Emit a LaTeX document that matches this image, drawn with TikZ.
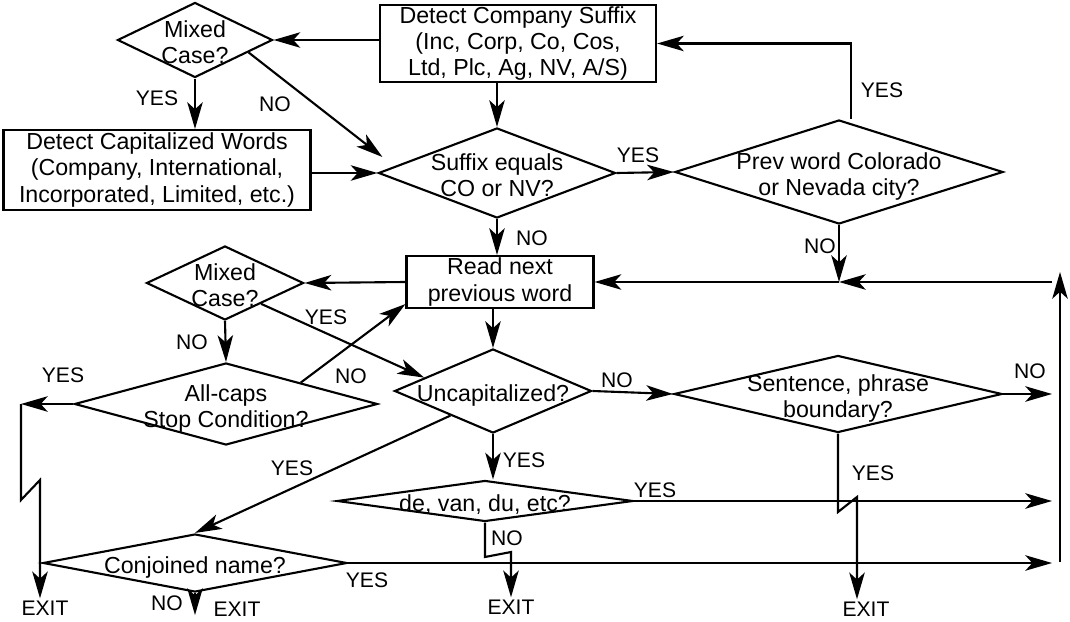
\documentclass[tikz,border=0pt]{standalone}
\usepackage{fontspec}
\setmainfont{Liberation Sans}
\usetikzlibrary{shapes.geometric, arrows.meta}

\newcommand{\dtxt}[1]{\raisebox{-8pt}[0pt][0pt]{\makebox[0pt]{\begin{tabular}{@{}c@{}}#1\end{tabular}}}}

\begin{document}
\begin{tikzpicture}[
    x=0.025cm, y=-0.025cm, line width=1.5pt,
    decision/.style={diamond, draw, inner sep=0pt, font=\fontsize{16.5}{18.5}\selectfont},
    block/.style={rectangle, draw, inner sep=1pt, align=center, font=\fontsize{16.5}{18.5}\selectfont},
    lbl/.style={inner sep=1pt, font=\fontsize{15}{17}\selectfont},
    arrow/.style={-{Stealth[length=19pt, width=11pt, inset=5pt]}}
  ]
    \useasboundingbox (0,0) rectangle (1070,622);

    % Nodes
    \node (mixtop) [decision, minimum width=3.875cm, minimum height=1.875cm] at (195,40) {\dtxt{Mixed\\Case?}};
    \node (suffixbox) [block, minimum width=6.9cm, minimum height=1.925cm] at (518,43.5) {Detect Company Suffix\\(Inc, Corp, Co, Cos,\\Ltd, Plc, Ag, NV, A/S)};
    \node (capbox) [block, minimum width=7.675cm, minimum height=2cm] at (157,170) {Detect Capitalized Words\\(Company, International,\\Incorporated, Limited, etc.)};
    \node (suffixq) [decision, minimum width=5.925cm, minimum height=2.25cm] at (497,173) {\dtxt{Suffix equals\\CO or NV?}};
    \node (prevq) [decision, minimum width=8.2cm, minimum height=2.6cm] at (839,172) {\dtxt{Prev word Colorado\\or Nevada city?}};
    \node (readbox) [block, minimum width=4.675cm, minimum height=1.3cm] at (500,282) {Read next\\previous word};
    \node (mixmid) [decision, minimum width=3.925cm, minimum height=1.85cm] at (225,283) {\dtxt{Mixed\\Case?}};
    \node (allcaps) [decision, minimum width=7.575cm, minimum height=2.05cm] at (226,404) {\dtxt{All-caps\\Stop Condition?}};
    \node (uncap) [decision, minimum width=4.925cm, minimum height=2.1cm] at (493,391) {\dtxt{Uncapitalized?}};
    \node (sentq) [decision, minimum width=8.2cm, minimum height=1.925cm] at (838,394) {\dtxt{Sentence, phrase\\boundary?}};
    \node (devan) [decision, minimum width=7.4cm, minimum height=1.025cm] at (485,501) {\dtxt{de, van, du, etc?}};
    \node (conj) [decision, minimum width=7.6cm, minimum height=1.45cm] at (195,563) {\dtxt{Conjoined name?}};

    \node (exitl) [lbl] at (45,608) {EXIT};
    \node (exitc) [lbl] at (237,609) {EXIT};
    \node (exitd) [lbl] at (511,607) {EXIT};
    \node (exits) [lbl] at (866,609) {EXIT};

    \coordinate (railbot) at (1060,562);
    \coordinate (railtop) at (1060,272);
    \coordinate (railjoin) at (1052,282);
    \coordinate (lcorner) at (21,404);
    \coordinate (lbrk) at (40,480);
    \coordinate (dbrk) at (511,552);
    \coordinate (sbrk) at (857,497);

    % Labels
    \node (yesa) [lbl] at (157,98) {YES};
    \node (noa) [lbl] at (275,104) {NO};
    \node (yesb) [lbl] at (638,155) {YES};
    \node (yesc) [lbl] at (882,90) {YES};
    \node (noc) [lbl] at (820,246) {NO};
    \node (nob) [lbl] at (532,238) {NO};
    \node (yesd) [lbl] at (326,317) {YES};
    \node (nod) [lbl] at (192,342) {NO};
    \node (yese) [lbl] at (63,375) {YES};
    \node (noe) [lbl] at (351,376) {NO};
    \node (nof) [lbl] at (617,380) {NO};
    \node (yesf) [lbl] at (524,460) {YES};
    \node (yesg) [lbl] at (292,468) {YES};
    \node (nog) [lbl] at (1030,371) {NO};
    \node (yesh) [lbl] at (873,473) {YES};
    \node (yesi) [lbl] at (655,490) {YES};
    \node (noi) [lbl] at (507,538) {NO};
    \node (yesj) [lbl] at (367,580) {YES};
    \node (noj) [lbl] at (167,603) {NO};

    % Connections
    \draw [arrow] (suffixbox.west |- mixtop.east) -- (mixtop.east);
    \draw [arrow] (mixtop.south) -- (mixtop.south |- capbox.north);
    \draw [arrow] (mixtop.-13) -- ([shift={(5,-16)}]suffixq.west);
    \draw [arrow] (capbox.east |- suffixq.west) -- (suffixq.west);
    \draw [arrow] (suffixbox.south -| suffixq.north) -- (suffixq.north);
    \draw [arrow] (suffixq.east) -- (prevq.west);
    \draw [arrow] ([shift={(12,0)}]prevq.north) |- (suffixbox.east);
    \draw [arrow] (prevq.south) -- (prevq.south |- readbox.east);
    \draw [arrow] (railbot) -- (railtop);
    \draw [arrow] (railjoin) -- (prevq.south |- readbox.east);
    \draw [arrow] (prevq.south |- readbox.east) -- (readbox.east);
    \draw [arrow] (suffixq.south) -- (suffixq.south |- readbox.north);
    \draw [arrow] (readbox.west) -- (mixmid.east);
    \draw [arrow] (readbox.south -| uncap.north) -- (uncap.north);
    \draw [arrow] (mixmid.south) -- (allcaps.north);
    \draw [arrow] (mixmid.-30) -- (uncap.169);
    \draw [arrow] (allcaps.16) -- ([shift={(0,-5)}]readbox.south west);
    \draw [arrow] (allcaps.west) -- (lcorner);
    \draw [arrow] (lcorner) -- (lcorner |- 0,500) -- (lbrk) -- (lbrk |- exitl.north);
    \draw [arrow] (uncap.south) -- (uncap.south |- devan.north);
    \draw [arrow] (uncap.210) -- (conj.north);
    \draw [arrow] (uncap.east) -- (sentq.west);
    \draw [arrow] (sentq.east) -- (sentq.east -| railjoin);
    \draw [arrow] (devan.east) -- (devan.east -| railjoin);
    \draw [arrow] (conj.east) -- (conj.east -| railjoin);
    \draw [arrow] (sentq.south) -- (sentq.south |- 0,512) -- (sbrk) -- (sbrk |- exits.north);
    \draw [arrow] (devan.south) -- (devan.south |- 0,557) -- (dbrk) -- (dbrk |- exitd.north);
    \draw [arrow] (conj.south) -- ++(0,22);

\end{tikzpicture}
\end{document}
